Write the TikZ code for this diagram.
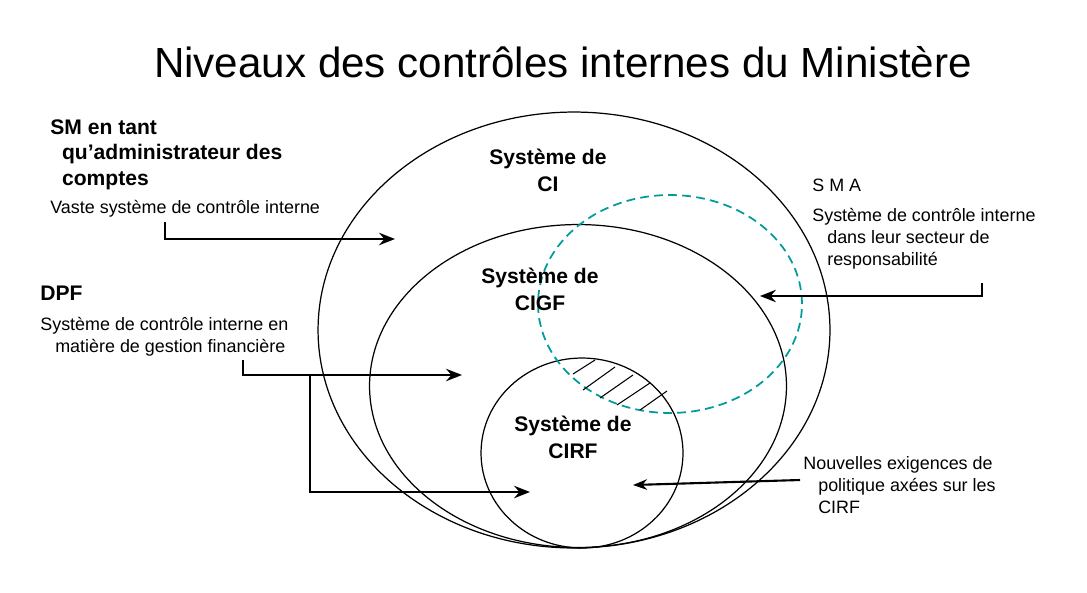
\documentclass[tikz,border=0pt]{standalone}
\usepackage{fontspec}
\setmainfont{Liberation Sans}
\usetikzlibrary{shapes.geometric,arrows.meta}
\definecolor{teal1}{RGB}{0,155,155}
\begin{document}
\begin{tikzpicture}[x=0.02cm,y=-0.02cm,
  ell/.style={ellipse,draw,inner sep=0,line width=0.7pt},
  arr/.style={line width=1.5pt,-{Stealth[length=9pt,width=7pt]}},
  lbl/.style={font=\fontsize{10.2}{12.5}\selectfont,align=left,anchor=north west,inner sep=0},
  bl/.style={font=\bfseries\fontsize{12}{14.5}\selectfont,align=left,anchor=north west,inner sep=0},
  inl/.style={font=\bfseries\fontsize{12}{15.5}\selectfont,align=center}]
\useasboundingbox (0,0) rectangle (1087,592);
\node[font=\fontsize{24}{29}\selectfont] (title) at (563,62) {Niveaux des contrôles internes du Ministère};
\node[ell,minimum width=10.24cm,minimum height=8.72cm] (ci) at (574,330) {};
\node[ell,minimum width=8.34cm,minimum height=6.46cm] (cigf) at (578,386) {};
\node[ell,minimum width=4.04cm,minimum height=3.8cm] (cirf) at (582,453) {};
\node[ell,draw=teal1,dashed,dash pattern=on 5pt off 3pt,line width=1pt,minimum width=5.28cm,minimum height=4.36cm] (sma) at (670,304) {};
\foreach \a/\b/\c/\d in {595/360/573/374,615/367/583/390,633/375/600/398,650/383/617/405,667/391/640/410}
  \draw[line width=0.6pt] (\a,\b) -- (\c,\d);
\node[inl] (tci) at (548,170) {Système de\\CI};
\node[inl] (tcigf) at (540,289) {Système de\\CIGF};
\node[inl] (tcirf) at (573,437) {Système de\\CIRF};
\node[bl] (sm) at (50,119) {SM en tant\\\ \ qu’administrateur des\\\ \ comptes};
\node[lbl] (smt) at (50,200) {Vaste système de contrôle interne};
\node[bl] (dpf) at (40,286) {DPF};
\node[lbl] (dpft) at (40,317) {Système de contrôle interne en\\\ \ \ matière de gestion financière};
\node[lbl] (smah) at (812,179) {S M A};
\node[lbl] (smat) at (812,208) {Système de contrôle interne\\\ \ \ dans leur secteur de\\\ \ \ responsabilité};
\node[lbl] (nv) at (803,456) {Nouvelles exigences de\\\ \ \ politique axées sur les\\\ \ \ CIRF};
\coordinate (a1s) at (165,222); \coordinate (a1e) at (395,239);
\coordinate (a2s) at (243,360); \coordinate (a2e) at (462,375);
\coordinate (br) at (310,375); \coordinate (a3e) at (530,492);
\coordinate (a4s) at (982,283); \coordinate (a4e) at (760,296);
\coordinate (a5s) at (800,480); \coordinate (a5e) at (633,485);
\draw[arr] (a1s) |- (a1e);
\draw[arr] (a2s) |- (a2e);
\draw[arr] (br) |- (a3e);
\draw[arr] (a4s) |- (a4e);
\draw[line width=1.2pt,-{Stealth[length=8pt,width=6pt]}] (a5s) -- (a5e);
\end{tikzpicture}
\end{document}
